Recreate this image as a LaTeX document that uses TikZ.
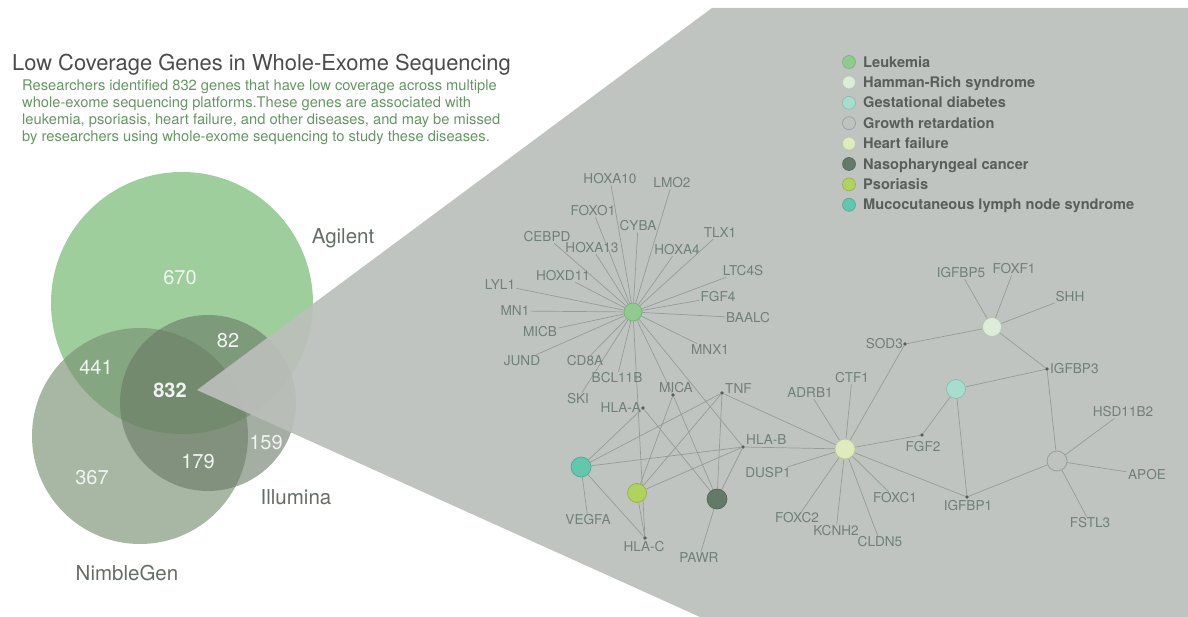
\documentclass[tikz,border=0pt]{standalone}
\usepackage{fontspec}
\setmainfont{TeX Gyre Heros}
\pgfdeclarelayer{back}
\pgfdeclarelayer{bg}
\pgfsetlayers{back,bg,main}
\definecolor{genec}{RGB}{112,128,118}
\definecolor{dotc}{RGB}{85,95,88}
\definecolor{edgec}{RGB}{148,156,150}
\definecolor{numc}{RGB}{240,244,240}
\definecolor{labc}{RGB}{100,110,102}
\definecolor{legtc}{RGB}{88,94,90}
\definecolor{titlec}{RGB}{75,75,75}
\definecolor{bodyc}{RGB}{100,150,100}
\definecolor{grayp}{RGB}{187,191,187}
\definecolor{agc}{RGB}{157,206,156}
\definecolor{nbc}{RGB}{120,145,115}
\definecolor{ilc}{RGB}{105,120,100}
\definecolor{leukf}{RGB}{143,203,140}\definecolor{leukd}{RGB}{120,178,118}
\definecolor{hamf}{RGB}{220,236,215}\definecolor{hamd}{RGB}{180,198,176}
\definecolor{gestf}{RGB}{167,221,207}\definecolor{gestd}{RGB}{135,188,175}
\definecolor{growf}{RGB}{191,194,190}\definecolor{growd}{RGB}{150,155,150}
\definecolor{heartf}{RGB}{221,235,189}\definecolor{heartd}{RGB}{185,200,155}
\definecolor{nasof}{RGB}{99,122,105}\definecolor{nasod}{RGB}{84,104,90}
\definecolor{psorf}{RGB}{176,211,92}\definecolor{psord}{RGB}{146,178,74}
\definecolor{mucof}{RGB}{98,199,173}\definecolor{mucod}{RGB}{80,168,146}
\begin{document}
\begin{tikzpicture}[x=1pt,y=-1pt,
  gene/.style={font=\fontsize{13.6}{14}\selectfont, text=genec, inner sep=1.2pt, text height=9.8pt, text depth=0pt},
  gdot/.style={circle, fill=dotc, inner sep=0pt, minimum size=3.8pt},
  dis/.style={circle, inner sep=0pt, minimum size=19pt, line width=0.7pt},
  lk/.style={draw=edgec, line width=0.7pt},
  num/.style={font=\fontsize{20}{22}\selectfont, text=numc, text height=14.4pt, text depth=0pt, inner sep=0pt},
  venlab/.style={font=\fontsize{20.5}{22}\selectfont, text=labc, text height=14.8pt, text depth=0pt, inner sep=0pt},
  legc/.style={circle, inner sep=0pt, minimum size=13pt, line width=0.6pt},
  legt/.style={anchor=west, font=\bfseries\fontsize{14.6}{15}\selectfont, text=legtc, text height=10.4pt, text depth=0pt, inner sep=0pt},
  body/.style={anchor=west, font=\fontsize{14.7}{17}\selectfont, text=bodyc, text height=10.5pt, text depth=0pt, inner sep=0pt}
]
\useasboundingbox (0,0) rectangle (1188,617);

% ---------- Venn diagram and gray wedge ----------
\begin{pgfonlayer}{back}
\fill[agc] (182,303) circle[radius=131];
\fill[nbc, fill opacity=0.65] (140,436) circle[radius=108];
\fill[ilc, fill opacity=0.6] (208,403) circle[radius=88];
\fill[grayp, fill opacity=0.92] (197,390) -- (712,8) -- (1188,8) -- (1188,617) -- (700,617) -- cycle;
\end{pgfonlayer}

\node[num] (n670) at (180,277) {670};
\node[num] (n82) at (228,340) {82};
\node[num] (n441) at (96,367) {441};
\node[num, font=\bfseries\fontsize{20}{22}\selectfont] (n832) at (170,390) {832};
\node[num] (n159) at (266,442) {159};
\node[num] (n179) at (198,461) {179};
\node[num] (n367) at (92,477) {367};
\node[venlab] (agl) at (343,236) {Agilent};
\node[venlab] (ill) at (296,497) {Illumina};
\node[venlab] (nbl) at (127,573) {NimbleGen};

% ---------- Title and description ----------
\node[anchor=west, font=\fontsize{21.9}{24}\selectfont, text=titlec, inner sep=0pt, text height=15.7pt, text depth=0pt] (title) at (12,63) {Low Coverage Genes in Whole-Exome Sequencing};
\node[body] (b1) at (22,85) {Researchers identified 832 genes that have low coverage across multiple};
\node[body] (b2) at (22,102) {whole-exome sequencing platforms.These genes are associated with};
\node[body] (b3) at (22,119) {leukemia, psoriasis, heart failure, and other diseases, and may be missed};
\node[body] (b4) at (22,136) {by researchers using whole-exome sequencing to study these diseases.};

% ---------- Legend ----------
\node[legc, fill=leukf, draw=leukd] (c1) at (849,62) {};
\node[legt] (t1) at (863,62) {Leukemia};
\node[legc, fill=hamf, draw=hamd] (c2) at (849,82.4) {};
\node[legt] (t2) at (863,82.4) {Hamman-Rich syndrome};
\node[legc, fill=gestf, draw=gestd] (c3) at (849,102.8) {};
\node[legt] (t3) at (863,102.8) {Gestational diabetes};
\node[legc, fill=growf, draw=growd] (c4) at (849,123.2) {};
\node[legt] (t4) at (863,123.2) {Growth retardation};
\node[legc, fill=heartf, draw=heartd] (c5) at (849,143.6) {};
\node[legt] (t5) at (863,143.6) {Heart failure};
\node[legc, fill=nasof, draw=nasod] (c6) at (849,164) {};
\node[legt] (t6) at (863,164) {Nasopharyngeal cancer};
\node[legc, fill=psorf, draw=psord] (c7) at (849,184.4) {};
\node[legt] (t7) at (863,184.4) {Psoriasis};
\node[legc, fill=mucof, draw=mucod] (c8) at (849,204.8) {};
\node[legt] (t8) at (863,204.8) {Mucocutaneous lymph node syndrome};

% ---------- Disease nodes ----------
\node[dis, fill=leukf, draw=leukd, minimum size=18pt] (L) at (633,312) {};
\node[dis, fill=mucof, draw=mucod, minimum size=20pt] (M) at (581,467) {};
\node[dis, fill=psorf, draw=psord] (P) at (637,493) {};
\node[dis, fill=nasof, draw=nasod, minimum size=20pt] (N) at (717,499) {};
\node[dis, fill=heartf, draw=heartd, minimum size=20pt] (H) at (845,449) {};
\node[dis, fill=hamf, draw=hamd] (R) at (992,327) {};
\node[dis, fill=gestf, draw=gestd] (G) at (956,389) {};
\node[dis, fill=growf, draw=growd, minimum size=20pt] (W) at (1057,461) {};

% ---------- Gene labels ----------
\node[gene] (HOXA10) at (610,179) {HOXA10};
\node[gene] (LMO2) at (672,183) {LMO2};
\node[gene] (FOXO1) at (593,211) {FOXO1};
\node[gene] (CYBA) at (638,226) {CYBA};
\node[gene] (CEBPD) at (547,237) {CEBPD};
\node[gene] (HOXA13) at (592,248) {HOXA13};
\node[gene] (HOXA4) at (677,250) {HOXA4};
\node[gene] (TLX1) at (720,233) {TLX1};
\node[gene] (LTC4S) at (743,271) {LTC4S};
\node[gene] (HOXD11) at (563,276) {HOXD11};
\node[gene] (LYL1) at (500,285) {LYL1};
\node[gene] (FGF4) at (718,297) {FGF4};
\node[gene] (MN1) at (515,311) {MN1};
\node[gene] (BAALC) at (748,318) {BAALC};
\node[gene] (MICB) at (540,332) {MICB};
\node[gene] (JUND) at (522,361) {JUND};
\node[gene] (CD8A) at (585,361) {CD8A};
\node[gene] (BCL11B) at (617,378) {BCL11B};
\node[gene] (SKI) at (578,399) {SKI};
\node[gene] (MNX1) at (710,350) {MNX1};
\node[gene] (VEGFA) at (588,520) {VEGFA};
\node[gene] (PAWR) at (699,558) {PAWR};
\node[gene] (DUSP1) at (768,473) {DUSP1};
\node[gene] (ADRB1) at (810,393) {ADRB1};
\node[gene] (CTF1) at (852,378) {CTF1};
\node[gene] (FOXC2) at (797,518) {FOXC2};
\node[gene] (KCNH2) at (836,531) {KCNH2};
\node[gene] (CLDN5) at (880,542) {CLDN5};
\node[gene] (FOXC1) at (895,498) {FOXC1};
\node[gene] (IGFBP5) at (961,273) {IGFBP5};
\node[gene] (FOXF1) at (1014,269) {FOXF1};
\node[gene] (SHH) at (1070,297) {SHH};
\node[gene] (HSD11B2) at (1123,412) {HSD11B2};
\node[gene] (APOE) at (1147,475) {APOE};
\node[gene] (FSTL3) at (1090,523) {FSTL3};

% genes drawn as dots, with their labels
\node[gdot] (MICA) at (673,395) {};
\node[gene] (tMICA) at (676,388) {MICA};
\node[gdot] (TNF) at (722,393) {};
\node[gene, anchor=west, inner sep=0pt] (tTNF) at (725,389) {TNF};
\node[gdot] (HLAA) at (643,408) {};
\node[gene, anchor=east, inner sep=0pt] (tHLAA) at (641,408) {HLA-A};
\node[gdot] (HLAB) at (743,447) {};
\node[gene, anchor=west, inner sep=0pt] (tHLAB) at (746,440) {HLA-B};
\node[gdot] (HLAC) at (645,538) {};
\node[gene] (tHLAC) at (644,547) {HLA-C};
\node[gdot] (SOD3) at (905,344) {};
\node[gene, anchor=east, inner sep=0pt] (tSOD3) at (903,344) {SOD3};
\node[gdot] (IGFBP3) at (1047,369) {};
\node[gene, anchor=west, inner sep=0pt] (tIGFBP3) at (1050,369) {IGFBP3};
\node[gdot] (FGF2) at (922,435) {};
\node[gene] (tFGF2) at (923,447) {FGF2};
\node[gdot] (IGFBP1) at (967,497) {};
\node[gene] (tIGFBP1) at (968,506) {IGFBP1};

% ---------- Connectors ----------
\begin{pgfonlayer}{bg}
\foreach \g in {HOXA10,LMO2,FOXO1,CYBA,CEBPD,HOXA13,HOXA4,TLX1,LTC4S,HOXD11,LYL1,FGF4,MN1,BAALC,MICB,JUND,CD8A,BCL11B,SKI,MNX1,MICA,HLAB,HLAC}
  \draw[lk] (L) -- (\g);
\foreach \g in {TNF,HLAA,HLAB,VEGFA,HLAC}
  \draw[lk] (M) -- (\g);
\foreach \g in {HLAC,MICA,TNF,HLAB}
  \draw[lk] (P) -- (\g);
\foreach \g in {HLAA,MICA,TNF,HLAB,PAWR}
  \draw[lk] (N) -- (\g);
\foreach \g in {TNF,HLAB,ADRB1,CTF1,SOD3,FGF2,IGFBP1,DUSP1,FOXC2,KCNH2,CLDN5,FOXC1}
  \draw[lk] (H) -- (\g);
\foreach \g in {SOD3,IGFBP5,FOXF1,SHH,IGFBP3}
  \draw[lk] (R) -- (\g);
\foreach \g in {IGFBP3,FGF2,IGFBP1}
  \draw[lk] (G) -- (\g);
\foreach \g in {IGFBP3,IGFBP1,HSD11B2,APOE,FSTL3}
  \draw[lk] (W) -- (\g);
\end{pgfonlayer}
\end{tikzpicture}
\end{document}
